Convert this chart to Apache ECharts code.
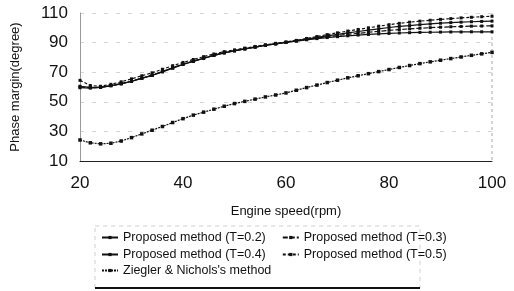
<!DOCTYPE html>
<html><head><meta charset="utf-8">
<script src="https://cdn.jsdelivr.net/npm/echarts@6/dist/echarts.min.js"></script>
<style>html,body{margin:0;padding:0;background:#fff}#c{width:514px;height:291px}</style>
</head><body><div id="c"></div>
<script>
var speeds = [20,22,24,26,28,30,32,34,36,38,40,42,44,46,48,50,52,54,56,58,60,62,64,66,68,70,72,74,76,78,80,82,84,86,88,90,92,94,96,98,100];
var pmT02 = [60.5,59.8,59.8,60.8,62.1,63.8,65.8,67.8,70.2,72.7,75.2,77.3,79.3,81.3,83.0,84.4,85.7,86.9,88.1,89.1,90.1,91.0,91.9,92.7,93.4,94.0,94.6,95.1,95.5,95.9,96.2,96.5,96.7,96.9,97.0,97.1,97.2,97.2,97.3,97.3,97.3];
var pmT03 = [60.0,59.5,59.8,61.0,62.3,64.0,66.0,68.0,70.5,73.0,75.5,77.5,79.5,81.5,83.2,84.5,85.8,87.0,88.2,89.2,90.2,91.1,92.1,93.1,94.0,94.8,95.6,96.3,97.0,97.6,98.3,98.8,99.3,99.7,100.1,100.4,100.7,100.9,101.1,101.2,101.3];
var pmT04 = [59.5,59.3,59.7,60.9,62.2,63.9,65.9,67.9,70.4,72.9,75.4,77.4,79.4,81.4,83.1,84.5,85.8,87.0,88.2,89.2,90.2,91.3,92.4,93.5,94.6,95.6,96.6,97.5,98.4,99.3,100.2,100.9,101.5,102.1,102.6,103.1,103.5,103.8,104.1,104.3,104.5];
var pmT05 = [64.5,61.0,60.5,61.8,63.5,65.5,67.6,69.6,72.0,74.4,76.6,78.6,80.5,82.3,83.9,85.1,86.3,87.4,88.5,89.5,90.4,91.5,92.8,94.1,95.4,96.6,97.8,98.9,100.0,101.1,102.1,103.0,103.8,104.5,105.1,105.7,106.2,106.7,107.1,107.5,107.8];
var pmZN = [24.2,22.3,21.6,22.0,23.5,25.8,28.3,30.8,33.3,36.0,38.6,41.0,43.0,45.0,47.0,48.8,50.3,51.8,53.3,54.6,56.0,57.8,59.6,61.3,63.0,64.6,66.2,67.6,69.0,70.4,71.8,73.2,74.5,75.8,77.0,78.1,79.2,80.3,81.4,82.4,83.4];
var seriesNames = ['Proposed method (T=0.2)','Proposed method (T=0.3)','Proposed method (T=0.4)','Proposed method (T=0.5)','Ziegler & Nichols\'s method'];
var xTicks = [20,40,60,80,100];
var yTicks = [10,30,50,70,90,110];

function pairs(v){ return speeds.map(function(s,i){ return [s, v[i]]; }); }
var dashes = ['solid',[5,2],'solid',[3,2],[2,1]];
var vals = [pmT02, pmT03, pmT04, pmT05, pmZN];
var series = vals.map(function(v,i){
  return {
    name: seriesNames[i], type:'line', data: pairs(v),
    symbol: 'rect', symbolSize: i===4 ? 3.5 : 3, showSymbol: true,
    lineStyle:{color:'#111', width:1.2, type: dashes[i]},
    itemStyle:{color:'#111'}, animation:false
  };
});
var font = 'Liberation Sans, Arial, sans-serif';
var legendBase = {orient:'horizontal', itemWidth:16, itemHeight:4, itemGap:16,
  textStyle:{fontFamily:font, fontSize:12.5, color:'#111'}, padding:0, selectedMode:false};
var chart = echarts.init(document.getElementById('c'));
chart.setOption({
  animation:false,
  grid:{left:80, right:22, top:13, bottom:130, containLabel:false, outerBoundsMode:'none'},
  xAxis:{type:'value', min:20, max:100, interval:20,
    name:'Engine speed(rpm)', nameLocation:'middle', nameGap:44,
    nameTextStyle:{fontFamily:font, fontSize:13, color:'#111'},
    axisLine:{lineStyle:{color:'#222', width:1}}, axisTick:{show:false},
    axisLabel:{fontFamily:font, fontSize:17, color:'#111', margin:14,
      formatter:function(v){ return xTicks.indexOf(v)>=0 ? String(v) : ''; }},
    splitLine:{show:false}},
  yAxis:{type:'value', min:10, max:110, interval:20,
    name:'Phase margin(degree)', nameLocation:'middle', nameGap:58, nameRotate:90,
    nameTextStyle:{fontFamily:font, fontSize:13, color:'#111'},
    axisLine:{show:true, lineStyle:{color:'#999', width:1}}, axisTick:{show:false},
    axisLabel:{fontFamily:font, fontSize:17, color:'#111', margin:12,
      formatter:function(v){ return yTicks.indexOf(v)>=0 ? String(v) : ''; }},
    splitLine:{show:true, lineStyle:{color:'#d4d4d4', width:1, type:[4,8]}}},
  legend:[
    Object.assign({}, legendBase, {left:101, top:231, data:[seriesNames[0], seriesNames[1]]}),
    Object.assign({}, legendBase, {left:101, top:248, data:[seriesNames[2], seriesNames[3]]}),
    Object.assign({}, legendBase, {left:101, top:264, data:[seriesNames[4]]})
  ],
  graphic:[
    {type:'line', shape:{x1:492,y1:13,x2:492,y2:161}, style:{stroke:'#aaa', lineDash:[3,3], lineWidth:1}},
    {type:'rect', shape:{x:95,y:226,width:325,height:62}, style:{fill:'none', stroke:'#d0d0d0', lineDash:[4,4], lineWidth:1}},
    {type:'line', shape:{x1:95,y1:288,x2:420,y2:288}, style:{stroke:'#111', lineWidth:2}}
  ],
  series: series
});
</script></body></html>
